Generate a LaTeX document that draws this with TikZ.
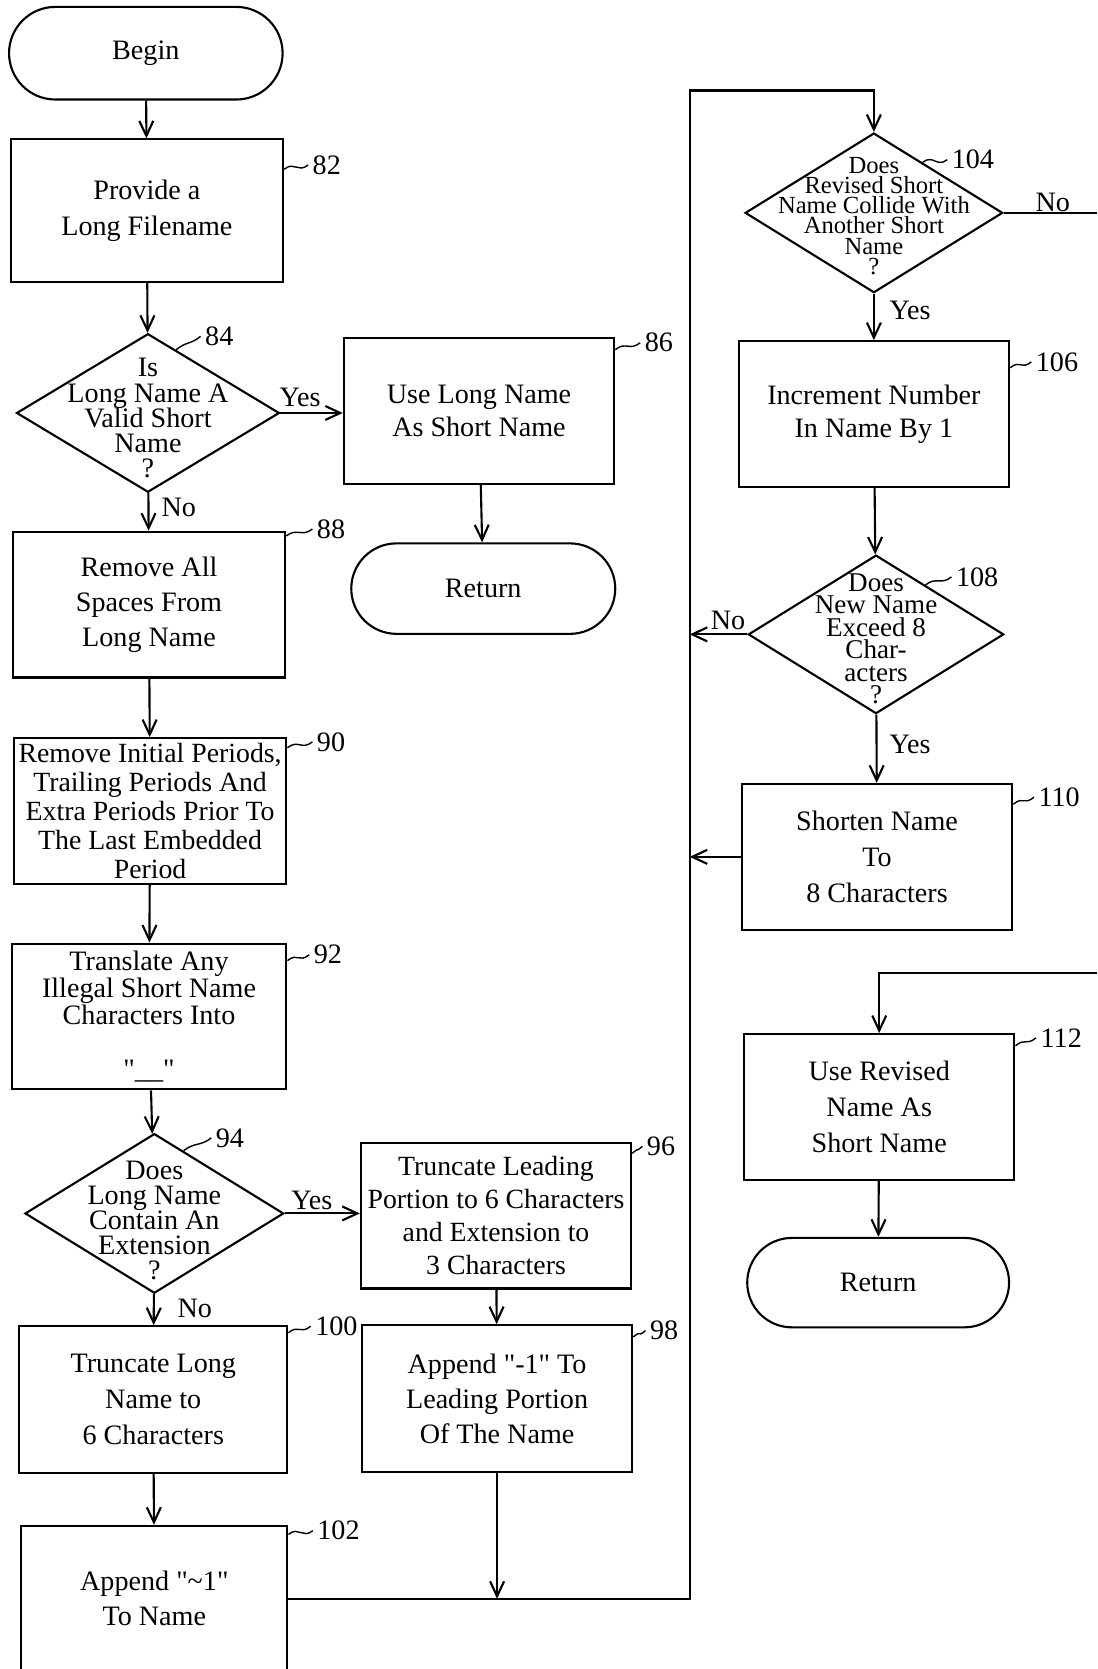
\documentclass[tikz,border=0pt]{standalone}
\usepackage{fontspec}
\setmainfont{Liberation Serif}
\usetikzlibrary{shapes.geometric,shapes.misc,arrows.meta}
\newlength{\pxu}
\setlength{\pxu}{0.1064mm}
\lineskiplimit=-20pt

\tikzset{
  proc/.style={draw, rectangle, minimum width=254*\pxu, minimum height=137*\pxu,
    inner sep=0pt, align=center, font=\fontsize{8}{10}\selectfont},
  term/.style={draw, rounded rectangle, minimum width=248*\pxu, minimum height=85*\pxu,
    inner sep=0pt, font=\fontsize{8}{10}\selectfont},
  dec/.style={draw, diamond, minimum width=242*\pxu, minimum height=150*\pxu, inner sep=0pt},
  dtxt/.style={align=center, inner sep=0pt},
  num/.style={inner sep=1pt, font=\fontsize{8}{9}\selectfont},
  yn/.style={inner sep=1pt, font=\fontsize{8}{9}\selectfont},
  arr/.style={-{Straight Barb[length=1.5mm,width=1.4mm]}},
  lead/.style={line width=0.4pt}
}

\begin{document}
\begin{tikzpicture}[x=\pxu, y=-\pxu, line width=0.6pt]
\useasboundingbox (0,0) rectangle (1031,1568);

\node[term, minimum width=257*\pxu, minimum height=87*\pxu] (begin) at (137,50) {Begin};
\node[proc, minimum width=256*\pxu, minimum height=134*\pxu] (b82) at (138,198) {Provide a\\Long Filename};
\node[dec, minimum width=247*\pxu, minimum height=149*\pxu] (d84) at (139,388) {};
\node[dtxt, font=\fontsize{8}{7.2}\selectfont] (t84) at (139,393) {Is\\Long Name A\\Valid Short\\Name\\?};
\node[proc, font=\fontsize{8}{9.4}\selectfont] (b86) at (450,386) {Use Long Name\\As Short Name};
\node[term] (ret1) at (454,553) {Return};
\node[proc, minimum width=256*\pxu] (b88) at (140,568) {Remove All\\Spaces From\\Long Name};
\node[proc, minimum width=256*\pxu, font=\fontsize{7.9}{8.2}\selectfont] (b90) at (141,762)
  {Remove Initial Periods,\\Trailing Periods And\\Extra Periods Prior To\\The Last Embedded\\Period};
\node[proc, minimum width=258*\pxu, font=\fontsize{8}{7.8}\selectfont] (b92) at (140,955)
  {Translate Any\\Illegal Short Name\\Characters Into\\[7.5pt]\textquotedbl\_\_\textquotedbl};
\node[dec, minimum width=243*\pxu] (d94) at (145,1140) {};
\node[dtxt, font=\fontsize{8}{7.1}\selectfont] (t94) at (145,1147) {Does\\Long Name\\Contain An\\Extension\\?};
\node[proc, font=\fontsize{7.9}{9.4}\selectfont] (b96) at (466,1142)
  {Truncate Leading\\Portion to 6 Characters\\and Extension to\\3 Characters};
\node[proc, minimum height=138*\pxu] (b98) at (467,1314)
  {Append \textquotedbl-1\textquotedbl{} To\\Leading Portion\\Of The Name};
\node[proc, minimum width=252*\pxu, minimum height=138*\pxu, font=\fontsize{8}{10.2}\selectfont] (b100) at (144,1315)
  {Truncate Long\\Name to\\6 Characters};
\node[proc, minimum width=250*\pxu] (b102) at (145,1502)
  {Append \textquotedbl\textasciitilde1\textquotedbl\\To Name};

\node[dec] (d104) at (821,200) {};
\node[dtxt, font=\fontsize{7}{5.7}\selectfont] (t104) at (821,203)
  {Does\\Revised Short\\Name Collide With\\Another Short\\Name\\?};
\node[proc, font=\fontsize{8}{9.4}\selectfont] (b106) at (821,389) {Increment Number\\In Name By 1};
\node[dec, minimum width=240*\pxu, minimum height=149*\pxu] (d108) at (823,596) {};
\node[dtxt, font=\fontsize{7.7}{6.4}\selectfont] (t108) at (823,600) {Does\\New Name\\Exceed 8\\Char-\\acters\\?};
\node[proc, font=\fontsize{8}{10.2}\selectfont] (b110) at (824,805) {Shorten Name\\To\\8 Characters};
\node[proc, font=\fontsize{8}{10.2}\selectfont] (b112) at (826,1040) {Use Revised\\Name As\\Short Name};
\node[term, minimum width=246*\pxu, minimum height=84*\pxu] (ret2) at (825,1205) {Return};

\coordinate (top) at (648,85);
\coordinate (out104) at (1031,200);
\coordinate (in112) at (1031,914);

\draw[arr] (begin) -- (b82);
\draw[arr] (b82) -- (d84);
\draw[arr] (d84.east) -- (d84.east -| b86.west);
\draw[arr] (b86) -- (ret1);
\draw[arr] (d84) -- (b88);
\draw[arr] (b88) -- (b90);
\draw[arr] (b90) -- (b92);
\draw[arr] (b92) -- (d94);
\draw[arr] (d94.east) -- (d94.east -| b96.west);
\draw[arr] (b96) -- (b98);
\draw[arr] (d94) -- (b100);
\draw[arr] (b100) -- (b102);
\draw[arr] (b98.south) -- (b98.south |- b102.east);
\draw[arr] (b102.east) -| (top) -| (d104.north);
\draw (d104.east) -- (out104);
\draw[arr] (d104) -- (b106);
\draw[arr] (b106) -- (d108);
\draw[arr] (d108.west) -- (d108.west -| top);
\draw[arr] (d108) -- (b110);
\draw[arr] (b110.west) -- (b110.west -| top);
\draw[arr] (in112) -| (b112.north);
\draw[arr] (b112) -- (ret2);

\node[yn] (y84) at (282,373) {Yes};
\node[yn] (n84) at (168,477) {No};
\node[yn] (y94) at (293,1128) {Yes};
\node[yn] (n94) at (183,1229) {No};
\node[yn] (n104) at (989,190) {No};
\node[yn] (y104) at (855,292) {Yes};
\node[yn] (n108) at (684,583) {No};
\node[yn] (y108) at (855,699) {Yes};

\node[num] (l82) at (307,155) {82};
\node[num] (l84) at (206,316) {84};
\node[num] (l86) at (619,322) {86};
\node[num] (l88) at (311,497) {88};
\node[num] (l90) at (311,697) {90};
\node[num] (l92) at (308,897) {92};
\node[num] (l94) at (216,1069) {94};
\node[num] (l96) at (621,1077) {96};
\node[num] (l98) at (624,1250) {98};
\node[num] (l100) at (316,1246) {100};
\node[num] (l102) at (318,1438) {102};
\node[num] (l104) at (914,150) {104};
\node[num] (l106) at (993,340) {106};
\node[num] (l108) at (918,542) {108};
\node[num] (l110) at (995,749) {110};
\node[num] (l112) at (997,975) {112};

\draw[lead] ([shift={(0,29)}]b82.north east) .. controls +(10,-8) and +(-10,8) .. (l82.west);
\draw[lead] (d84.66) .. controls +(10,-8) and +(-10,8) .. (l84.west);
\draw[lead] ([shift={(0,12)}]b86.north east) .. controls +(10,-8) and +(-10,8) .. (l86.west);
\draw[lead] ([shift={(0,5)}]b88.north east) .. controls +(10,-8) and +(-10,8) .. (l88.west);
\draw[lead] ([shift={(0,10)}]b90.north east) .. controls +(10,-8) and +(-10,8) .. (l90.west);
\draw[lead] ([shift={(0,17)}]b92.north east) .. controls +(10,-8) and +(-10,8) .. (l92.west);
\draw[lead] (d94.65) .. controls +(10,-8) and +(-10,8) .. (l94.west);
\draw[lead] ([shift={(0,11)}]b96.north east) .. controls +(10,-8) and +(-10,8) .. (l96.west);
\draw[lead] ([shift={(0,12)}]b98.north east) .. controls +(10,-8) and +(-10,8) .. (l98.west);
\draw[lead] ([shift={(0,7)}]b100.north east) .. controls +(10,-8) and +(-10,8) .. (l100.west);
\draw[lead] ([shift={(0,9)}]b102.north east) .. controls +(10,-8) and +(-10,8) .. (l102.west);
\draw[lead] (d104.46) .. controls +(10,-8) and +(-10,8) .. (l104.west);
\draw[lead] ([shift={(0,26)}]b106.north east) .. controls +(10,-8) and +(-10,8) .. (l106.west);
\draw[lead] (d108.45) .. controls +(10,-8) and +(-10,8) .. (l108.west);
\draw[lead] ([shift={(0,20)}]b110.north east) .. controls +(10,-8) and +(-10,8) .. (l110.west);
\draw[lead] ([shift={(0,12)}]b112.north east) .. controls +(10,-8) and +(-10,8) .. (l112.west);
\end{tikzpicture}
\end{document}
